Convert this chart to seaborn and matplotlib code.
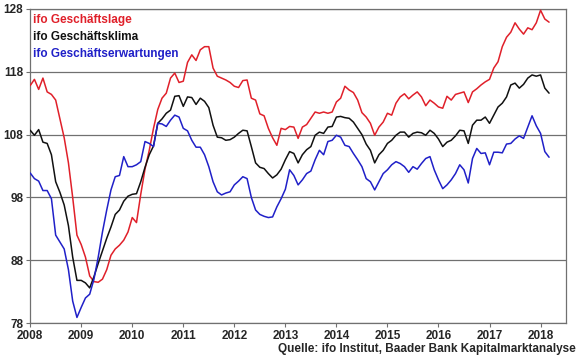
import numpy as np
import pandas as pd
import matplotlib
matplotlib.use("Agg")
import matplotlib.pyplot as plt
import seaborn as sns

# monthly values Jan 2008 - Mar 2018
lage = [
    115.8, 116.8, 115.2, 117.0, 114.8, 114.4, 113.5, 110.5, 107.5, 103.5, 98.0, 92.0,   # 2008
    90.5, 88.5, 85.5, 84.6, 84.5, 85.0, 86.5, 88.8, 89.8, 90.4, 91.2, 92.5,             # 2009
    94.8, 94.0, 98.5, 102.5, 105.5, 109.0, 112.0, 113.8, 114.6, 117.0, 117.8, 116.3,    # 2010
    116.5, 119.5, 120.7, 119.8, 121.5, 122.0, 122.0, 118.6, 117.3, 117.0, 116.7, 116.3, # 2011
    115.7, 115.5, 116.6, 116.7, 113.8, 113.5, 111.3, 111.0, 109.0, 107.5, 106.3, 109.0, # 2012
    108.8, 109.3, 109.2, 107.4, 109.2, 109.6, 110.6, 111.6, 111.4, 111.6, 111.4, 111.6, # 2013
    113.2, 113.8, 115.7, 115.1, 114.7, 113.5, 111.5, 110.8, 109.8, 107.9, 109.2, 110.0, # 2014
    111.4, 111.1, 113.0, 114.0, 114.5, 113.7, 114.3, 114.8, 114.0, 112.6, 113.5, 113.0, # 2015
    112.4, 112.2, 114.1, 113.5, 114.4, 114.6, 114.8, 113.1, 114.8, 115.3, 115.9, 116.4, # 2016
    116.8, 118.6, 119.6, 122.0, 123.5, 124.3, 125.8, 124.8, 124.0, 125.0, 124.7, 125.8, # 2017
    127.8, 126.4, 125.9,                                                                 # 2018
]
klima = [
    108.7, 107.9, 108.8, 106.8, 106.6, 104.8, 100.5, 98.8, 96.8, 93.5, 88.5, 84.8,
    84.8, 84.4, 83.6, 85.4, 87.5, 89.5, 91.5, 93.3, 95.3, 96.0, 97.4, 98.2,
    98.5, 98.6, 100.5, 102.8, 104.8, 106.2, 109.8, 110.5, 111.4, 111.9, 114.1, 114.2,
    112.5, 114.0, 113.9, 112.8, 113.8, 113.3, 112.3, 109.5, 107.6, 107.5, 107.1, 107.2,
    107.6, 108.2, 108.7, 108.6, 106.1, 103.5, 102.8, 102.6, 101.8, 101.1, 101.6, 102.5,
    104.0, 105.3, 105.0, 103.5, 104.8, 105.6, 106.1, 107.9, 108.4, 108.2, 109.2, 109.3,
    110.8, 110.9, 110.7, 110.6, 110.0, 109.0, 108.0, 106.5, 105.5, 103.5, 104.8, 105.5,
    106.6, 107.1, 107.9, 108.4, 108.4, 107.6, 108.2, 108.4, 108.3, 107.9, 108.7, 108.2,
    107.3, 106.1, 106.8, 107.1, 107.8, 108.7, 108.6, 106.6, 109.5, 110.3, 110.3, 110.8,
    109.8, 111.1, 112.4, 113.0, 114.0, 115.9, 116.2, 115.4, 116.0, 117.0, 117.5, 117.3,
    117.5, 115.4, 114.6,
]
erwartungen = [
    101.9, 101.0, 100.6, 99.1, 99.1, 97.8, 92.0, 90.9, 89.8, 86.5, 81.5, 78.9,
    80.5, 82.0, 82.6, 85.0, 88.5, 92.5, 96.0, 99.2, 101.3, 101.5, 104.5, 102.9,
    102.9, 103.2, 103.7, 106.9, 106.6, 106.1, 109.8, 109.7, 109.3, 110.3, 111.1, 110.8,
    109.0, 108.6, 107.1, 106.0, 106.0, 104.8, 102.9, 100.5, 98.9, 98.4, 98.7, 98.9,
    100.0, 100.6, 101.3, 101.0, 98.0, 96.0, 95.3, 95.0, 94.8, 94.9, 96.5, 97.8,
    99.3, 102.4, 101.5, 100.0, 100.8, 101.8, 102.2, 104.0, 105.5, 104.8, 106.9, 107.1,
    107.9, 107.6, 106.3, 106.1, 105.0, 104.0, 102.9, 101.0, 100.5, 99.2, 100.5, 101.8,
    102.4, 103.2, 103.7, 103.4, 102.9, 102.0, 102.9, 102.5, 103.4, 104.2, 104.5, 102.4,
    100.8, 99.4, 100.0, 100.8, 101.8, 103.2, 102.4, 100.3, 104.2, 105.8, 105.0, 105.1,
    103.2, 105.2, 105.2, 105.1, 106.5, 106.6, 107.3, 107.8, 107.4, 109.2, 111.0, 109.4,
    108.2, 105.3, 104.4,
]

SERIES = ["ifo Geschäftslage", "ifo Geschäftsklima", "ifo Geschäftserwartungen"]
COLORS = ["#E0202A", "#111111", "#2020C8"]
YEARS = list(range(2008, 2019))
Y_TICKS = [78, 88, 98, 108, 118, 128]

n = len(lage)
t = 2008 + np.arange(n) / 12.0
df = pd.DataFrame({
    "t": np.concatenate([t, t, t]),
    "wert": lage + klima + erwartungen,
    "serie": np.repeat(SERIES, n),
})

sns.set_style("white")
plt.rcParams["font.family"] = ["Liberation Sans", "DejaVu Sans"]

fig = plt.figure(figsize=(5.8, 3.59), dpi=100)
ax = fig.add_axes([0.052, 0.100, 0.924, 0.875])

sns.lineplot(data=df, x="t", y="wert", hue="serie", hue_order=SERIES,
             palette=COLORS, linewidth=1.1, legend=False, ax=ax, zorder=3)

ax.set_xlim(2008, 2018.5)
ax.set_ylim(78, 128)
ax.set_xticks(YEARS)
ax.set_xticklabels([str(y) for y in YEARS], fontsize=8.5, fontweight="bold")
ax.set_yticks(Y_TICKS)
ax.set_yticklabels([str(v) for v in Y_TICKS], fontsize=8.5, fontweight="bold")
ax.set_xlabel("")
ax.set_ylabel("")
ax.tick_params(axis="both", direction="out", length=3, width=0.8,
               color="#707070", pad=2, bottom=True, left=True)
ax.grid(axis="y", color="#707070", linewidth=0.9)
ax.grid(axis="x", visible=False)
for sp in ax.spines.values():
    sp.set_color("#707070")
    sp.set_linewidth(0.9)

for i, (name, col) in enumerate(zip(SERIES, COLORS)):
    ax.text(0.006, 0.966 - i * 0.054, name, transform=ax.transAxes,
            color=col, fontsize=8.5, fontweight="bold", va="center", ha="left")

fig.text(0.992, 0.028, "Quelle: ifo Institut, Baader Bank Kapitalmarktanalyse",
         ha="right", va="center", fontsize=8.5, fontweight="bold")

fig.savefig("out.png", dpi=100)
